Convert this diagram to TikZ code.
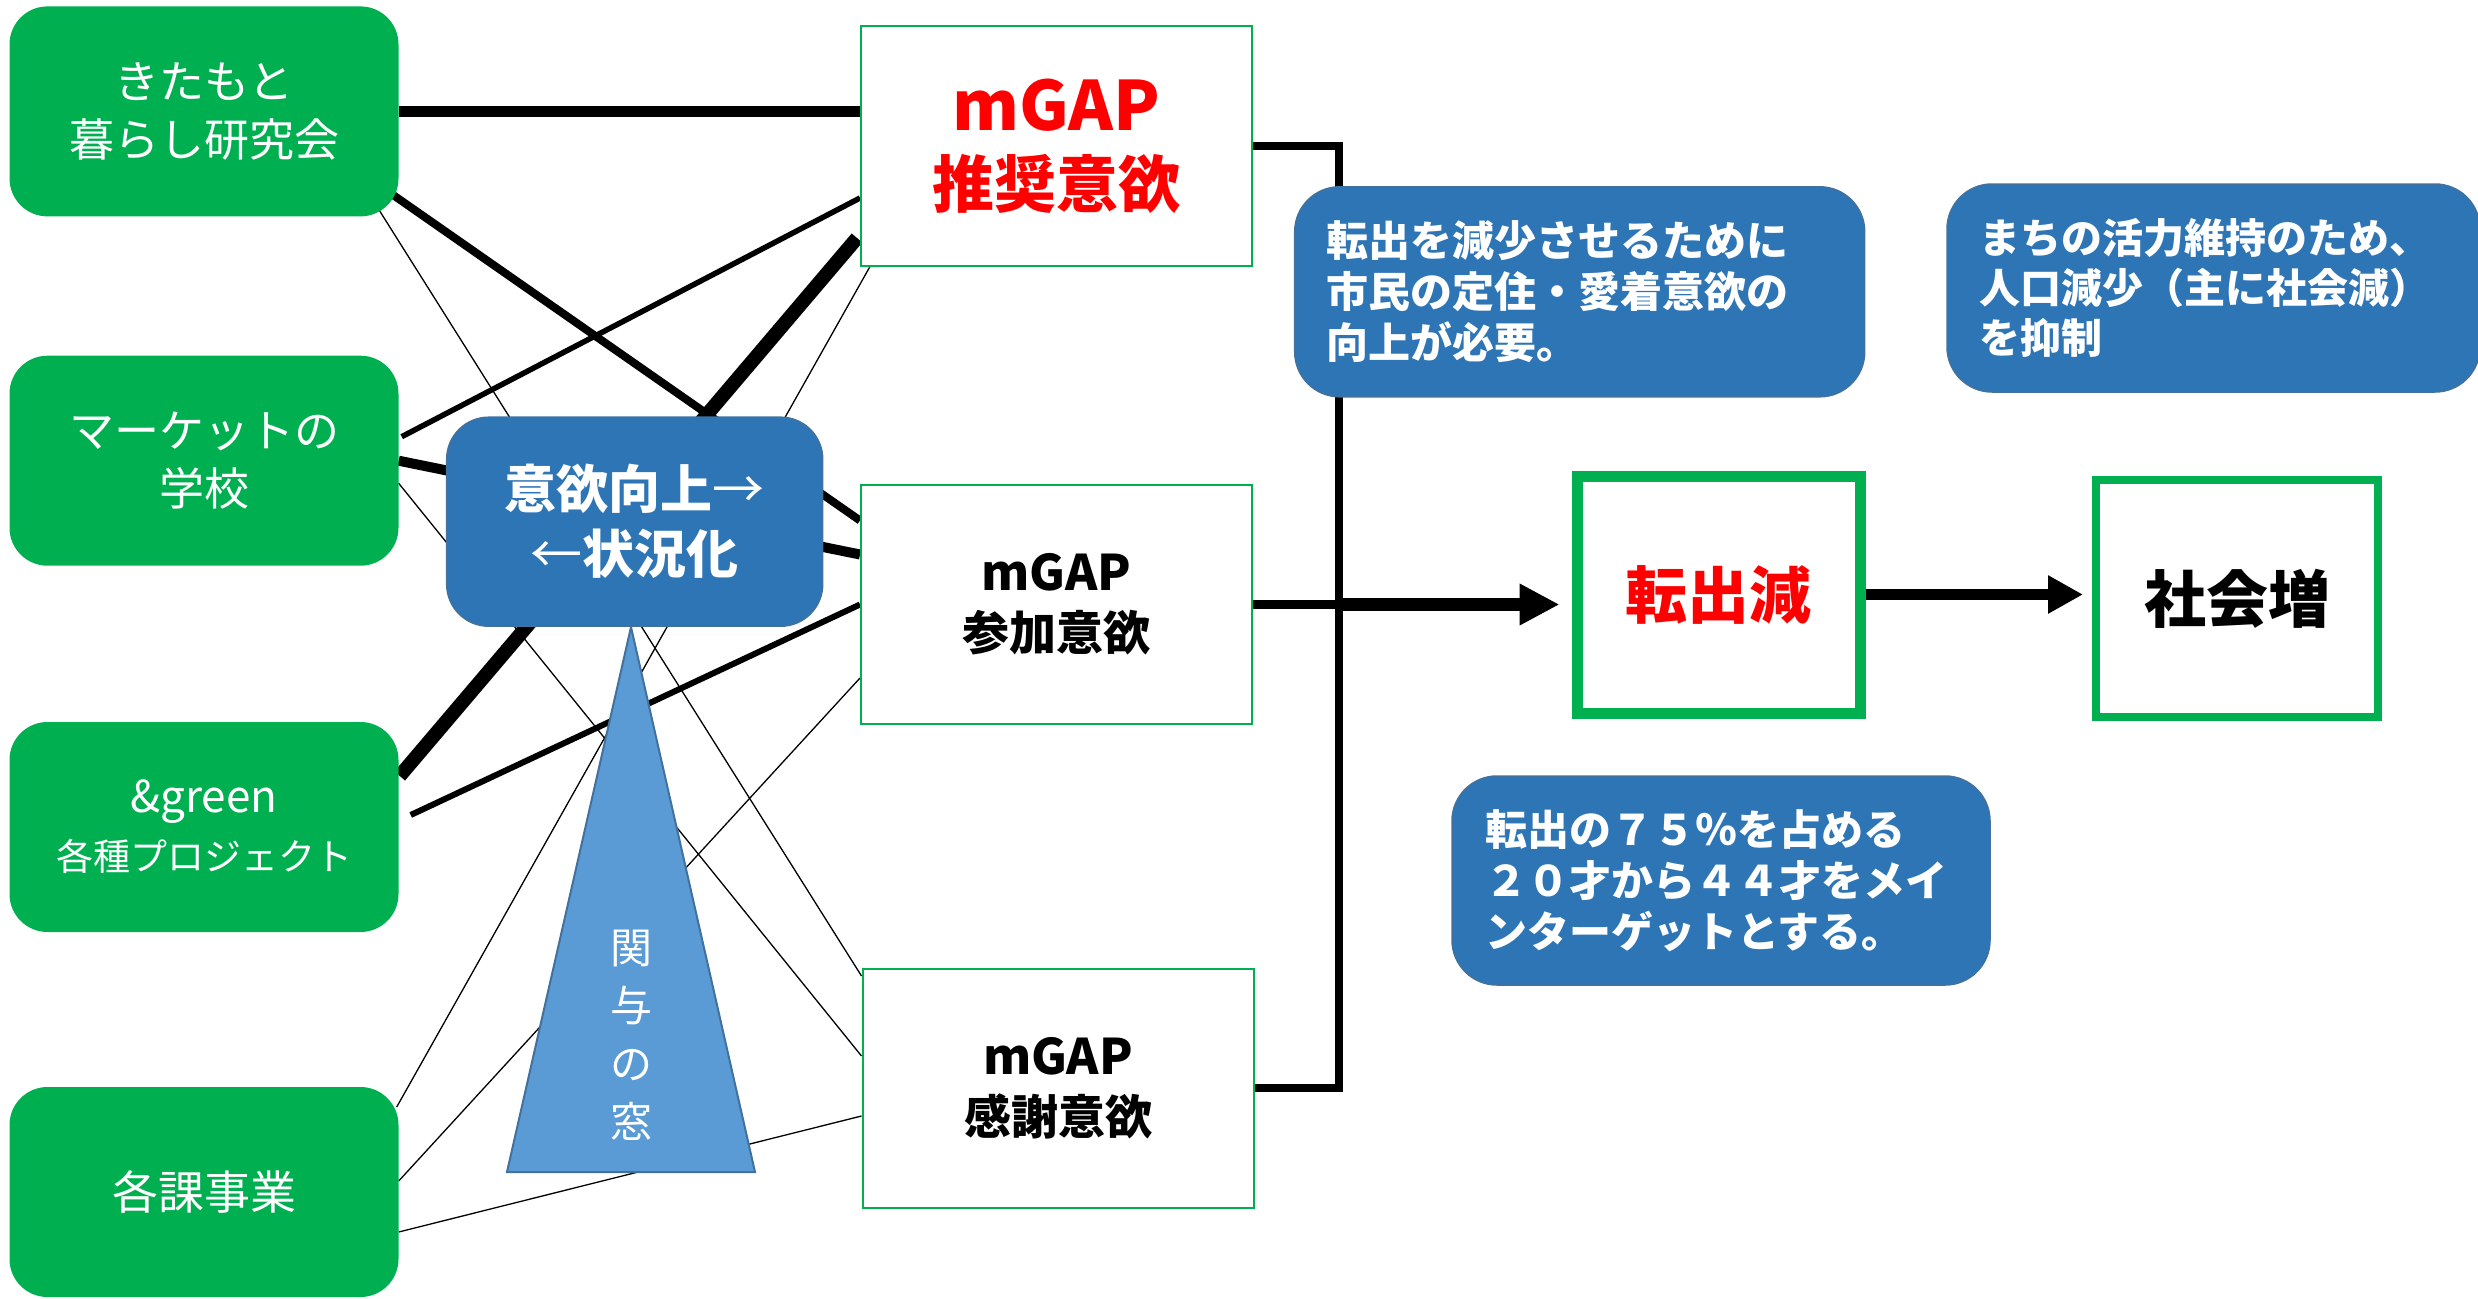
\documentclass[tikz,border=0pt]{standalone}
\usepackage{fontspec}
\setmainfont{Noto Sans CJK JP}
\usetikzlibrary{arrows.meta}

\definecolor{boxgreen}{RGB}{0,176,80}
\definecolor{boxblue}{RGB}{46,117,182}
\definecolor{lightblue}{RGB}{91,155,213}
\definecolor{edgeblue}{RGB}{65,113,156}

\pgfdeclarelayer{bg}
\pgfsetlayers{bg,main}

\tikzset{
    kbox/.style={fill=boxgreen, rounded corners=38pt, minimum width=389pt, minimum height=210pt,
        inner sep=0pt, text=white, align=center, font=\fontsize{45}{58}\selectfont},
    mbox/.style={draw=boxgreen, line width=2pt, fill=white, minimum width=391pt, minimum height=239pt,
        inner sep=0pt, align=center},
    gbox/.style={draw=boxgreen, fill=white, minimum width=283pt, minimum height=237pt,
        inner sep=0pt, font=\bfseries\fontsize{62}{70}\selectfont},
    note/.style={fill=boxblue, draw=edgeblue, line width=1.5pt, rounded corners=45pt, text=white,
        inner xsep=32pt, inner ysep=0pt, align=left, font=\bfseries\fontsize{42}{51}\selectfont},
    link/.style={line width=1.3pt},
    bracket/.style={line width=7.3pt},
    bigarrow/.style={-{Triangle[width=39pt,length=40pt]}}
}

\begin{document}
\begin{tikzpicture}[x=1pt,y=-1pt]
    \useasboundingbox (0,0) rectangle (2478,1298);

    % left side
    \node[kbox] (k1) at (204,111.4) {きたもと\\暮らし研究会};
    \node[kbox] (k2) at (204,460.7) {マーケットの\\学校};
    \node[kbox] (k3) at (204,827) {{\fontsize{44}{48}\selectfont \&green}\\{\fontsize{37}{48}\selectfont 各種プロジェクト}};
    \node[kbox, font=\fontsize{46}{58}\selectfont] (k4) at (204,1192) {各課事業};

    % mGAP boxes
    \node[mbox, text=red, font=\bfseries\fontsize{62}{77}\selectfont] (s1) at (1056.5,146)
        {{\fontsize{68}{77}\selectfont mGAP}\\推奨意欲};
    \node[mbox, font=\bfseries\fontsize{47}{60}\selectfont] (s2) at (1056.5,604.5)
        {{\fontsize{49}{60}\selectfont mGAP}\\参加意欲};
    \node[mbox, font=\bfseries\fontsize{47}{60}\selectfont] (s3) at (1058,1088)
        {{\fontsize{49}{60}\selectfont mGAP}\\感謝意欲};

    \begin{pgfonlayer}{bg}
        \draw[line width=10.5pt] (k1.east) -- (k1.east -| s1.west);
        \draw[line width=8pt] ([xshift=-5pt,yshift=-84pt]k1.east) -- ([yshift=84pt]s2.west);
        \draw[link] ([xshift=-20pt,yshift=-98pt]k1.east) -- ([yshift=112pt]s3.west);

        \draw[line width=5.5pt] ([xshift=3pt,yshift=24pt]k2.east) -- ([yshift=-52pt]s1.west);
        \draw[line width=10pt] (k2.east) -- ([yshift=50pt]s2.west);
        \draw[link] ([yshift=-22.6pt]k2.east) -- ([yshift=32pt]s3.west);

        \draw[line width=14pt] ([xshift=1pt,yshift=51pt]k3.east) -- ([xshift=-3pt,yshift=-92pt]s1.west);
        \draw[line width=6pt] ([xshift=12pt,yshift=12pt]k3.east) -- (s2.west);

        \draw[link] ([xshift=-2pt,yshift=85pt]k4.east) -- ([xshift=10pt]s1.south west);
        \draw[link] ([yshift=11pt]k4.east) -- ([yshift=-73.5pt]s2.west);
        \draw[link] ([yshift=-40pt]k4.east) -- ([yshift=-28pt]s3.west);
    \end{pgfonlayer}

    % window
    \node[fill=boxblue, draw=edgeblue, line width=1.5pt, rounded corners=42pt, minimum width=376pt,
        minimum height=209pt, inner sep=0pt, text=white, align=center,
        font=\bfseries\fontsize{52}{65}\selectfont] (up) at (634.7,521.7)
        {意欲向上{\mdseries →}\\{\mdseries ←}状況化};
    \draw[fill=lightblue, draw=edgeblue, line width=2pt] (631,627) -- (755,1172) -- (507,1172) -- cycle;
    \node[text=white, align=center, font=\fontsize{42}{58}\selectfont] (kado) at (631,1035) {関\\与\\の\\窓};

    % right side
    \node[gbox, line width=11pt, text=red] (zd) at (1718.5,594.5) {転出減};
    \node[gbox, line width=8pt, minimum width=282pt] (sk) at (2237,598.5) {社会増};

    \coordinate (brk) at (1339,146);
    \begin{pgfonlayer}{bg}
        \draw[bracket] (s1.east) -- (brk) -- (brk |- s3.east) -- (s3.east);
        \draw[line width=9pt] (s2.east) -- (brk |- s2.east);
        \draw[bigarrow, line width=13pt, shorten >=12pt] (brk |- s2.east) -- (zd.west |- s2.east);
        \draw[-{Triangle[width=36pt,length=35pt]}, line width=11pt, shorten >=9pt] (zd.east) -- (zd.east -| sk.west);
    \end{pgfonlayer}

    \node[note, minimum width=570pt, minimum height=210pt, text width=506pt] (n1) at (1579.7,291.8)
        {転出を減少させるために\\市民の定住・愛着意欲の\\向上が必要。};
    \node[note, minimum width=533pt, minimum height=208pt, text width=469pt,
        font=\bfseries\fontsize{41}{50}\selectfont] (n2) at (2213.5,288)
        {まちの活力維持のため、\\人口減少（主に社会減）\\を抑制};
    \node[note, minimum width=538pt, minimum height=209pt, text width=472pt] (n3) at (1721,880.5)
        {転出の７５％を占める\\２０才から４４才をメイ\\ンターゲットとする。};

\end{tikzpicture}
\end{document}
